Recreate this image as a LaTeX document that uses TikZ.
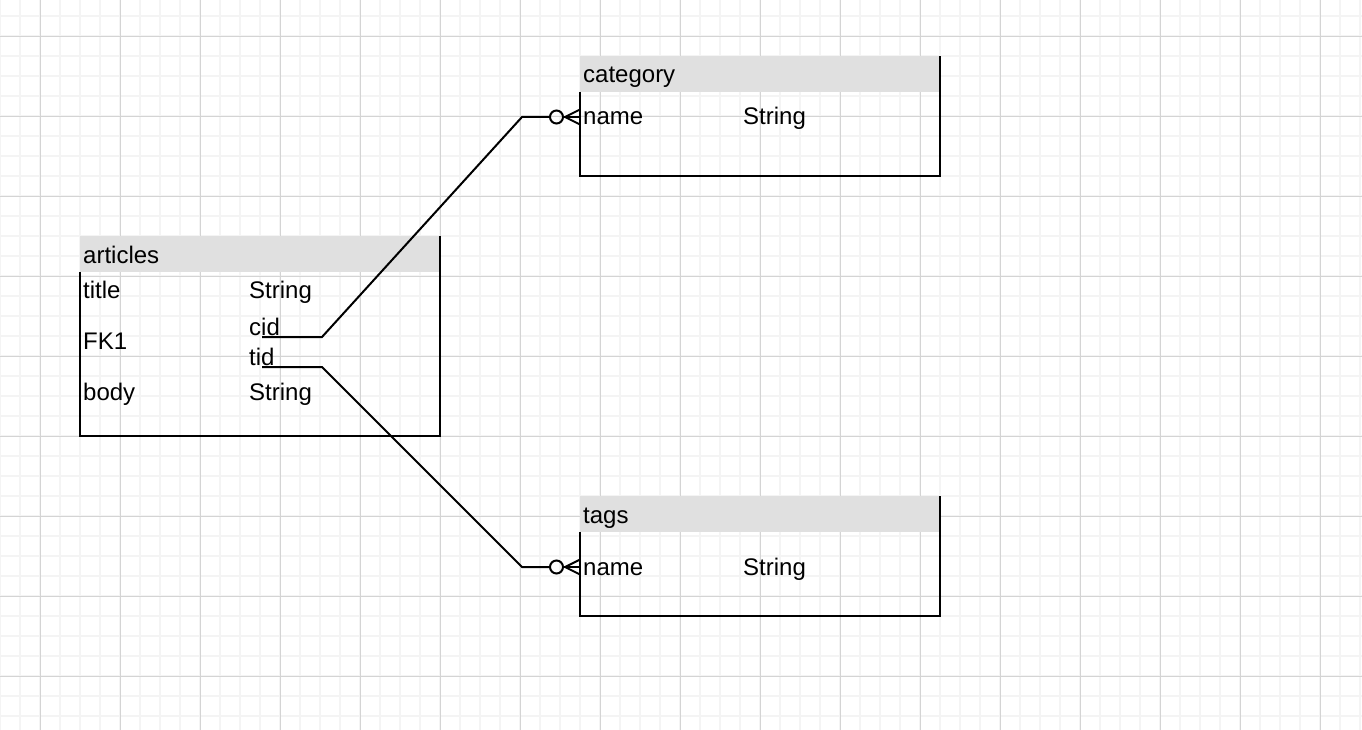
\documentclass[tikz,border=0pt]{standalone}
\usepackage{fontspec}
\setmainfont{Liberation Sans}
\usepackage{xcolor}
\usetikzlibrary{positioning}

\definecolor{gridminor}{HTML}{F4F4F4}
\definecolor{gridmajor}{HTML}{D4D4D4}
\definecolor{headgray}{HTML}{E0E0E0}

\tikzset{
  zeromany/.pic={
    \draw[line width=2pt] (-23.5,0) circle (6.5);
    \draw[line width=2pt] (-17,0) -- (0,0);
    \draw[line width=2pt] (0,-7.5) -- (-15,0) -- (0,7.5);
  }
}

\begin{document}
\begin{tikzpicture}[x=1pt,y=-1pt,
  minor/.style={gridminor,line width=1.6pt},
  major/.style={gridmajor,line width=0.9pt},
  tbl/.style={draw=none,inner sep=0pt,minimum width=360pt},
  head/.style={fill=headgray},
  border/.style={line width=2pt},
  field/.style={anchor=base west,inner sep=0pt,font=\fontsize{24}{28}\selectfont},
  link/.style={line width=2pt}]
  \fill[white] (0,0) rectangle (1362,730);
  \useasboundingbox (0,0) rectangle (1362,730);
  % grid
  \foreach \x in {0,20,...,1360} \draw[minor] (\x,0) -- (\x,730);
  \foreach \y in {16,36,...,716} \draw[minor] (0,\y) -- (1362,\y);
  \foreach \x in {40,120,...,1320} \draw[major] (\x,0) -- (\x,730);
  \foreach \y in {36,116,...,676} \draw[major] (0,\y) -- (1362,\y);

  % tables
  \node[tbl,minimum height=200pt] (articles) at (260,336) {};
  \node[tbl,minimum height=120pt] (category) at (760,116) {};
  \node[tbl,minimum height=120pt] (tags) at (760,556) {};
  \foreach \t in {articles,category,tags} {
    \fill[head] (\t.north west) rectangle ([yshift=-36pt]\t.north east);
    \draw[border] ([yshift=-36pt]\t.north west) -- (\t.south west) -- (\t.south east) -- (\t.north east);
  }

  % articles
  \node[field] (arthead) at (83,263) {articles};
  \node[field] (title) at (83,298) {title};
  \node[field] (titletype) at (249,298) {String};
  \node[field] (fk) at (83,349) {FK1};
  \node[field] (cid) at (249,335) {cid};
  \node[field] (tid) at (249,365) {tid};
  \node[field] (body) at (83,400) {body};
  \node[field] (bodytype) at (249,400) {String};

  % category
  \node[field] (cathead) at (583,83) {category};
  \node[field] (catname) at (583,125) {name};
  \node[field] (catnametype) at (743,125) {String};

  % tags
  \node[field] (taghead) at (583,523) {tags};
  \node[field] (tagname) at (583,575) {name};
  \node[field] (tagnametype) at (743,575) {String};

  % relations
  \coordinate (cidline) at (262,337);
  \coordinate (tidline) at (262,367);
  \coordinate (catport) at (580,117);
  \coordinate (tagport) at (580,567);
  \draw[link] (cidline) -- ++(60,0) -- ([xshift=-58pt]catport) -- ([xshift=-30pt]catport);
  \draw[link] (tidline) -- ++(60,0) -- ([xshift=-58pt]tagport) -- ([xshift=-30pt]tagport);
  \pic at (catport) {zeromany};
  \pic at (tagport) {zeromany};
\end{tikzpicture}
\end{document}
